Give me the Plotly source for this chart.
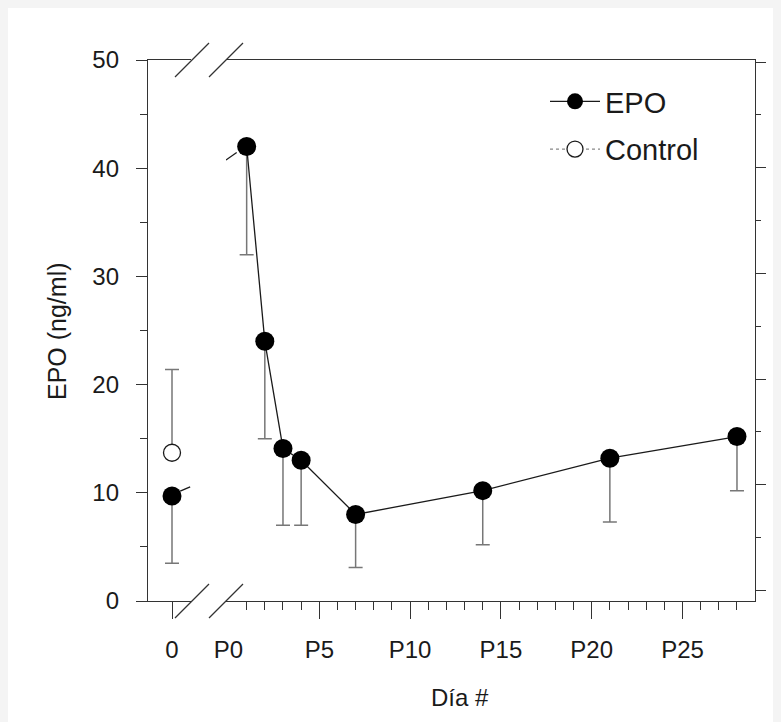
import plotly.graph_objects as go

# ---------------- data ----------------
pre_day = [0]                      # control / pre-treatment day
pre_tick_text = ["0"]
baseline_epo = [9.7]
baseline_low = [3.5]
control_epo = [13.7]
control_high = [21.4]

post_days = [1, 2, 3, 4, 7, 14, 21, 28]
post_epo = [42.0, 24.0, 14.1, 13.0, 8.0, 10.2, 13.2, 15.2]
post_low = [32.0, 15.0, 7.0, 7.0, 3.1, 5.2, 7.3, 10.2]

post_tickvals = [5, 10, 15, 20, 25]
post_ticktext = ["P5", "P10", "P15", "P20", "P25"]
p0_tickval = [0]
p0_ticktext = ["P0"]
minor_tickvals = [d for d in range(1, 30) if d % 5 != 0]

y_tickvals = [0, 10, 20, 30, 40, 50]

FONT = "Liberation Sans, Arial, sans-serif"
INK = "#1a1a1a"
AX = "#333333"
ERR = "#777777"

# derived error lengths
baseline_minus = [v - l for v, l in zip(baseline_epo, baseline_low)]
control_plus = [h - v for v, h in zip(control_epo, control_high)]
post_minus = [v - l for v, l in zip(post_epo, post_low)]

open_marker = dict(symbol="circle", size=17, color="white", line=dict(width=1.3, color=INK))

fig = go.Figure()

# pre-treatment segment (left of break)
fig.add_trace(go.Scatter(
    x=pre_day, y=control_epo, xaxis="x", yaxis="y",
    mode="markers", name="Control", showlegend=False,
    marker=open_marker,
    error_y=dict(type="data", symmetric=False, array=control_plus, arrayminus=[0],
                 color=ERR, thickness=1.5, width=7),
))
fig.add_trace(go.Scatter(
    x=pre_day, y=baseline_epo, xaxis="x", yaxis="y",
    mode="markers", name="EPO", showlegend=False,
    marker=dict(symbol="circle", size=19, color="black"),
    error_y=dict(type="data", symmetric=False, array=[0], arrayminus=baseline_minus,
                 color=ERR, thickness=1.5, width=7),
))
# short stub leaving the baseline point towards the break
fig.add_trace(go.Scatter(
    x=[pre_day[0] + 0.45, pre_day[0] + 1.0],
    y=[baseline_epo[0] + 0.45, baseline_epo[0] + 0.85],
    xaxis="x", yaxis="y", mode="lines", showlegend=False, hoverinfo="skip",
    line=dict(color=INK, width=1.3),
))

# post-treatment segment
fig.add_trace(go.Scatter(
    x=post_days, y=post_epo, xaxis="x2", yaxis="y",
    mode="lines+markers", name="EPO", legendgroup="a",
    line=dict(color=INK, width=1.3),
    marker=dict(symbol="circle", size=19, color="black"),
    error_y=dict(type="data", symmetric=False, array=[0] * len(post_days),
                 arrayminus=post_minus, color=ERR, thickness=1.5, width=7),
))
# stub arriving at the first post point from the break
fig.add_trace(go.Scatter(
    x=[post_days[0] - 1.14, post_days[0] - 0.55],
    y=[post_epo[0] - 1.25, post_epo[0] - 0.55],
    xaxis="x2", yaxis="y", mode="lines", showlegend=False, hoverinfo="skip",
    line=dict(color=INK, width=1.3),
))
# legend entry for control
fig.add_trace(go.Scatter(
    x=[None], y=[None], xaxis="x2", yaxis="y",
    mode="lines+markers", name="Control", legendgroup="b",
    line=dict(color="#888888", width=1.2, dash="dot"),
    marker=open_marker,
))
# register right-hand axis and the P0 label axis
fig.add_trace(go.Scatter(x=[], y=[], xaxis="x2", yaxis="y2", showlegend=False))
fig.add_trace(go.Scatter(x=[], y=[], xaxis="x3", yaxis="y", showlegend=False))

OFF = 8                      # page offset of the figure in the screenshot
W, H = 781, 722
L, T = 148 - OFF, 60 - OFF
RIGHT_PX, BOTTOM_PX = 755 - OFF, 601 - OFF
R, B = W - RIGHT_PX, H - BOTTOM_PX
pw = RIGHT_PX - L
ph = BOTTOM_PX - T
px_per_day = 18.16
x1_end_px = 191 - OFF
x2_start_px = 226 - OFF
p0_px = 228.5 - OFF
ctrl_px = 172 - OFF

def fx(p):   # reference page x -> paper
    return (p - OFF - L) / pw

def fy(p):   # reference page y -> paper
    return (BOTTOM_PX - (p - OFF)) / ph

x1_range = [-(ctrl_px - L) / px_per_day, (x1_end_px - ctrl_px) / px_per_day]
x2_range = [-(p0_px - x2_start_px) / px_per_day, (RIGHT_PX - p0_px) / px_per_day]

axis_common = dict(showline=True, linecolor=AX, linewidth=1.3, showgrid=False,
                   zeroline=False, tickcolor=AX,
                   tickfont=dict(family=FONT, size=24, color=INK))

fig.update_layout(
    width=W, height=H,
    margin=dict(l=L, r=R, t=T, b=B),
    paper_bgcolor="white", plot_bgcolor="rgba(0,0,0,0)",
    font=dict(family=FONT, color=INK),
    showlegend=True,
    legend=dict(x=fx(545), y=fy(76), xanchor="left", yanchor="top",
                bgcolor="rgba(0,0,0,0)", font=dict(family=FONT, size=29, color=INK),
                itemwidth=50, tracegroupgap=7),
    xaxis=dict(domain=[0, (x1_end_px - L) / pw], range=x1_range, anchor="y",
               tickmode="array", tickvals=pre_day, ticktext=pre_tick_text,
               ticks="outside", ticklen=17, mirror=True, ticklabelstandoff=10,
               **axis_common),
    xaxis2=dict(domain=[(x2_start_px - L) / pw, 1], range=x2_range, anchor="y",
                tickmode="array", tickvals=post_tickvals, ticktext=post_ticktext,
                ticks="outside", ticklen=17, mirror=True, ticklabelstandoff=10,
                minor=dict(tickmode="array", tickvals=minor_tickvals, ticks="outside",
                           ticklen=8, tickcolor=AX),
                **axis_common),
    xaxis3=dict(overlaying="x2", range=x2_range, anchor="y", showline=False,
                showgrid=False, zeroline=False, ticks="", tickmode="array",
                tickvals=p0_tickval, ticktext=p0_ticktext, side="bottom",
                ticklabelstandoff=32,
                tickfont=dict(family=FONT, size=24, color=INK)),
    yaxis=dict(range=[0, 50], anchor="x", tickmode="array", tickvals=y_tickvals,
               ticks="outside", ticklen=11, ticklabelstandoff=12,
               minor=dict(dtick=5, ticks="outside", ticklen=7, tickcolor=AX),
               **axis_common),
    yaxis2=dict(overlaying="y", side="right", anchor="x2", range=[-1.2, 9.04],
                showline=True, linecolor=AX, linewidth=1.3, showgrid=False,
                zeroline=False, showticklabels=False, ticks="outside", ticklen=10,
                tickcolor=AX, tickmode="linear", tick0=1, dtick=2,
                minor=dict(tick0=0, dtick=1, ticks="outside", ticklen=5, tickcolor=AX)),
)

# axis-break marks
dy = 17 / ph
for yc in (0, 1):
    for (a, b) in ((175, 209), (209, 243)):
        fig.add_shape(type="line", xref="paper", yref="paper",
                      x0=fx(a), x1=fx(b), y0=yc - dy, y1=yc + dy,
                      line=dict(color=AX, width=1.3))

# axis titles
fig.add_annotation(text="EPO (ng/ml)", textangle=-90, xref="paper", yref="paper",
                   x=fx(57), y=fy(331), xanchor="center", yanchor="middle",
                   showarrow=False, font=dict(family=FONT, size=25, color=INK))
fig.add_annotation(text="Día #", xref="paper", yref="paper",
                   x=fx(460), y=fy(697), xanchor="center", yanchor="middle",
                   showarrow=False, font=dict(family=FONT, size=24, color=INK))

# grey page margin as in the reference screenshot
fig.write_html("out.html",
               post_script="document.body.style.backgroundColor='#f4f4f4';")
